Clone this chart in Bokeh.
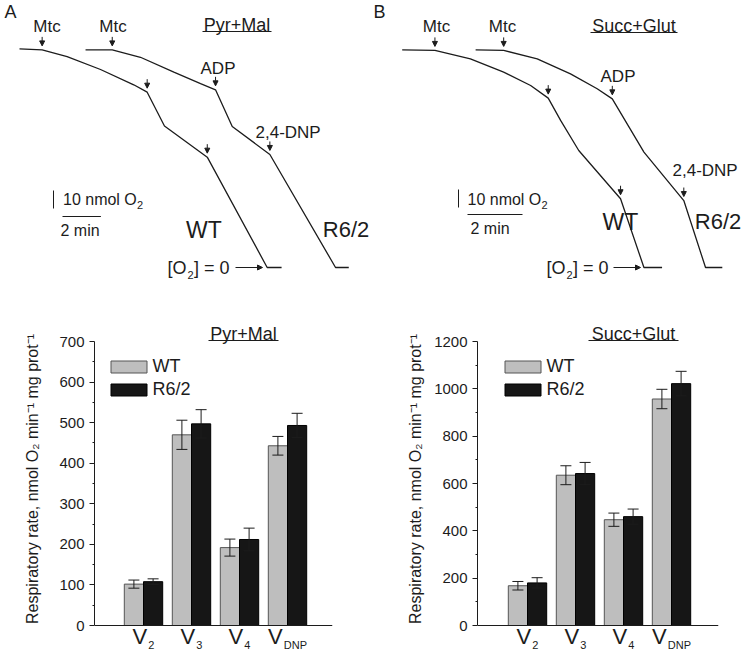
from bokeh.plotting import figure
from bokeh.models import (Range1d, Label, Arrow, NormalHead, Whisker, TeeHead,
                          ColumnDataSource, Legend, LegendItem, Span, FixedTicker)
from bokeh.layouts import row, column
from bokeh.embed import file_html
from bokeh.resources import INLINE
from bokeh.core.properties import value

FONT = "Liberation Sans"
INK = "#1c1c1c"

# ---------------- Oxygen traces (time in min, O2 remaining in nmol) ----------------
# Panel A (Pyr+Mal)
A_wt_t = [0.00, 1.18, 2.48, 4.22, 5.95, 6.65, 7.55, 9.78, 12.90, 13.65]
A_wt_o2 = [121.5, 120.9, 117.2, 110.0, 101.5, 97.4, 78.6, 61.3, 0.0, 0.0]
A_r62_t = [3.44, 4.83, 6.30, 8.04, 9.43, 10.21, 11.08, 13.04, 16.46, 17.15]
A_r62_o2 = [120.9, 120.9, 116.8, 108.5, 102.1, 98.7, 78.3, 62.8, 0.0, 0.0]
A_wt_events = [1, 5, 7]      # Mtc, ADP, 2,4-DNP additions (vertex index)
A_r62_events = [1, 5, 7]
# Panel B (Succ+Glut)
B_wt_t = [0.00, 1.19, 2.48, 3.69, 4.67, 5.31, 5.76, 6.42, 7.94, 8.79, 9.45]
B_wt_o2 = [120.9, 120.6, 115.9, 108.5, 101.1, 94.1, 81.7, 65.0, 38.2, 0.0, 0.0]
B_r62_t = [2.67, 3.69, 4.91, 6.12, 7.09, 7.64, 8.79, 10.24, 11.03, 11.64]
B_r62_o2 = [120.9, 120.6, 115.9, 107.6, 99.3, 93.7, 64.1, 37.2, 0.0, 0.0]
B_wt_events = [1, 5, 8]
B_r62_events = [1, 5, 7]

# ---------------- Respiratory rates (nmol O2/min/mg prot) ----------------
categories = ["V2", "V3", "V4", "VDNP"]
cat_main = ["V", "V", "V", "V"]
cat_sub = ["2", "3", "4", "DNP"]
C_wt = [102, 470, 192, 443]
C_wt_err = [10, 36, 21, 23]
C_r62 = [108, 497, 212, 493]
C_r62_err = [7, 35, 28, 30]
D_wt = [168, 635, 447, 957]
D_wt_err = [18, 40, 28, 41]
D_r62 = [180, 642, 460, 1022]
D_r62_err = [22, 47, 32, 52]

SCALE_O2 = 10   # nmol
SCALE_T = 2     # min


def lbl(p, x, y, text, size, align="left", baseline="middle", x_offset=0):
    p.add_layout(Label(x=x, y=y, text=text, text_font=FONT, text_font_size=size,
                       text_align=align, text_baseline=baseline, text_color=INK,
                       x_offset=x_offset))


def arrow(p, x0, y0, x1, y1, size=5):
    p.add_layout(Arrow(x_start=x0, y_start=y0, x_end=x1, y_end=y1,
                       line_color=INK, line_width=1,
                       end=NormalHead(size=size, fill_color=INK, line_color=INK, line_width=1)))


YT = lambda r: (267.0 - r) / 1.8   # O2 scale of the traces: 1.8 px per nmol


def trace_panel(width, X, xl, xr, traces, a):
    p = figure(width=width, height=300, x_range=Range1d(X(xl), X(xr)),
               y_range=Range1d(YT(300), YT(0)), x_axis_type=None, y_axis_type=None,
               toolbar_location=None, output_backend="svg", min_border=0,
               outline_line_color=None, background_fill_color="white")
    for t, o2, ev in traces:
        p.line(t, o2, line_color=INK, line_width=1.3)
        for i in ev:
            y_end = o2[i] + 4 / 1.8
            arrow(p, t[i], y_end + 9 / 1.8, t[i], y_end, size=5)
    lbl(p, X(a["letter"][0]), YT(a["letter"][1]), a["letter"][2], "18px")
    for (x, y) in a["mtc"]:
        lbl(p, X(x), YT(y), "Mtc", "17px", align="center")
    tx, ty, tt, u0, u1 = a["title"]
    lbl(p, X(tx), YT(ty), tt, "18px", align="center")
    p.line([X(u0), X(u1)], [YT(ty + 7), YT(ty + 7)], line_color=INK, line_width=1)
    lbl(p, X(a["adp"][0]), YT(a["adp"][1]), "ADP", "17px", align="center")
    lbl(p, X(a["dnp"][0]), YT(a["dnp"][1]), "2,4-DNP", "17px")
    # scale bars
    vx, vy = a["vbar"]
    p.line([X(vx), X(vx)], [YT(vy), YT(vy) + SCALE_O2], line_color=INK, line_width=1)
    hx, hy = a["hbar"]
    p.line([X(hx), X(hx) + SCALE_T], [YT(hy), YT(hy)], line_color=INK, line_width=1)
    sx, sy = a["o2txt"]
    lbl(p, X(sx), YT(sy), "10 nmol O", "16px")
    lbl(p, X(sx), YT(sy + 5), "2", "11px", x_offset=74)
    mx, my = a["mintxt"]
    lbl(p, X(mx), YT(my), "2 min", "16px")
    lbl(p, X(a["wt"][0]), YT(a["wt"][1]), "WT", "23px", align="center")
    lbl(p, X(a["r62"][0]), YT(a["r62"][1]), "R6/2", "22px", align="center")
    zx = a["zero"]
    lbl(p, X(zx), YT(267), "[O", "18px")
    lbl(p, X(zx), YT(274), "2", "11px", x_offset=20)
    lbl(p, X(zx), YT(267), "] = 0", "18px", x_offset=26.5)
    ax0, ax1 = a["zarrow"]
    arrow(p, X(ax0), 0, X(ax1), 0, size=5)
    return p


XA = lambda r: (r - 19.0) / 19.2
XB = lambda r: (r - 401.7) / 27.5

pA = trace_panel(370, XA, 0, 370,
                 [(A_wt_t, A_wt_o2, A_wt_events), (A_r62_t, A_r62_o2, A_r62_events)],
                 dict(letter=(4, 11, "A"), mtc=[(46.5, 26), (112.5, 26)],
                      title=(236.5, 24, "Pyr+Mal", 202, 271), adp=(217.5, 68), dnp=(255, 132),
                      vbar=(53, 208), hbar=(62, 216), o2txt=(62.5, 199), mintxt=(60, 230),
                      wt=(203.5, 229), r62=(345.5, 229), zero=167, zarrow=(235, 262)))

pB = trace_panel(379, XB, 370, 749,
                 [(B_wt_t, B_wt_o2, B_wt_events), (B_r62_t, B_r62_o2, B_r62_events)],
                 dict(letter=(373, 11, "B"), mtc=[(436, 26), (502, 26)],
                      title=(633.5, 25, "Succ+Glut", 590, 677), adp=(617.5, 76), dnp=(672, 170),
                      vbar=(458, 207), hbar=(467, 214), o2txt=(467, 199), mintxt=(470, 228),
                      wt=(620, 221), r62=(717.5, 221), zero=546, zarrow=(613, 640)))


SUB_W = {"2": 6.1, "3": 6.1, "4": 6.1, "DNP": 23.2}
V_W = 14.7


def bar_panel(width, x0, axis_ref, right_ref, c1, ymax, step,
              wt, wt_e, r6, r6_e, title, t_x, u0, u1, letter, letter_x, legend_vx, lab_standoff):
    Xd = lambda r: 1 + (r - c1) / 48.0
    Yd = lambda r: (625.0 - r) * ymax / 284.0
    p = figure(width=width, height=357, x_range=Range1d(Xd(axis_ref), Xd(right_ref)),
               y_range=Range1d(Yd(657), Yd(300)), x_axis_type=None,
               toolbar_location=None, output_backend="svg",
               min_border_left=axis_ref - x0, min_border_right=x0 + width - right_ref,
               min_border_top=0, min_border_bottom=0, outline_line_color=None)
    p.ygrid.grid_line_color = None
    pos = [i + 1 for i in range(len(categories))]
    s_wt = ColumnDataSource(dict(x=[q - 0.2 for q in pos], top=wt,
                                 upper=[m + e for m, e in zip(wt, wt_e)],
                                 lower=[m - e for m, e in zip(wt, wt_e)]))
    s_r6 = ColumnDataSource(dict(x=[q + 0.2 for q in pos], top=r6,
                                 upper=[m + e for m, e in zip(r6, r6_e)],
                                 lower=[m - e for m, e in zip(r6, r6_e)]))
    r_wt = p.vbar(x="x", top="top", bottom=0, width=0.4, source=s_wt,
                  fill_color="#bebebe", line_color="#555555", line_width=1)
    r_r6 = p.vbar(x="x", top="top", bottom=0, width=0.4, source=s_r6,
                  fill_color="#161616", line_color="#000000", line_width=1)
    for s in (s_wt, s_r6):
        p.add_layout(Whisker(source=s, base="x", upper="upper", lower="lower",
                             line_color=INK, line_width=1, level="overlay",
                             upper_head=TeeHead(size=11, line_color=INK, line_width=1),
                             lower_head=TeeHead(size=11, line_color=INK, line_width=1)))
    p.add_layout(Span(location=0, dimension="width", line_color=INK, line_width=1))
    ax = p.yaxis[0]
    ax.bounds = (0, ymax)
    ax.ticker = FixedTicker(ticks=list(range(0, ymax + 1, step)),
                            minor_ticks=list(range(step // 2, ymax, step)))
    ax.major_tick_out = 5
    ax.major_tick_in = 0
    ax.minor_tick_out = 2
    ax.minor_tick_in = 0
    ax.axis_line_color = INK
    ax.major_tick_line_color = INK
    ax.minor_tick_line_color = INK
    ax.major_label_text_font = FONT
    ax.major_label_text_font_size = "15px"
    ax.major_label_text_color = INK
    ax.major_label_standoff = 5
    ax.axis_label = "Respiratory rate, nmol O\u2082 min\u207b\u00b9 mg prot\u207b\u00b9"
    ax.axis_label_text_font = FONT
    ax.axis_label_text_font_size = "16px"
    ax.axis_label_text_font_style = "normal"
    ax.axis_label_text_color = INK
    ax.axis_label_standoff = lab_standoff
    # category labels with subscripts
    for q, mtxt, stxt in zip(pos, cat_main, cat_sub):
        total = V_W + 1 + SUB_W[stxt]
        left = -total / 2
        lbl(p, q, Yd(636), mtxt, "22px", baseline="middle", x_offset=left)
        lbl(p, q, Yd(644.5), stxt, "11px", baseline="middle", x_offset=left + V_W + 1)
    # underlined title
    lbl(p, Xd(t_x), Yd(333), title, "18px", align="center")
    p.line([Xd(u0), Xd(u1)], [Yd(340), Yd(340)], line_color=INK, line_width=1)
    lbl(p, Xd(letter_x), Yd(316), letter, "18px")
    leg = Legend(items=[LegendItem(label=value("WT"), renderers=[r_wt]),
                        LegendItem(label=value("R6/2"), renderers=[r_r6])],
                 location=(legend_vx, 257.5), glyph_width=45, glyph_height=15,
                 label_standoff=2, spacing=2, padding=0, margin=0, label_height=21,
                 border_line_color=None, background_fill_alpha=0,
                 label_text_font=FONT, label_text_font_size="18px", label_text_color=INK)
    p.add_layout(leg)
    return p


pC = bar_panel(370, 0, 94, 332, 143, 700, 100, C_wt, C_wt_err, C_r62, C_r62_err,
               "Pyr+Mal", 243, 208, 278, "C", 3, 11.5, 15)
pD = bar_panel(379, 370, 477, 718, 527, 1200, 200, D_wt, D_wt_err, D_r62, D_r62_err,
               "Succ+Glut", 633, 588, 678, "D", 373, 22.5, 7)

layout = column(row(pA, pB), row(pC, pD))
open("out.html", "w").write(file_html(layout, INLINE))
